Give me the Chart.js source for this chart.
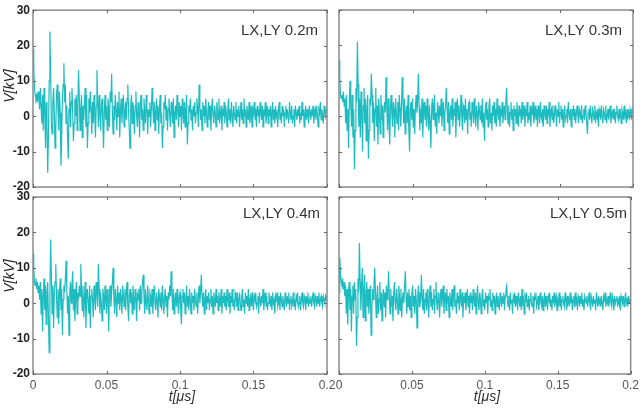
<!DOCTYPE html>
<html>
<head>
<meta charset="utf-8">
<script src="https://cdn.jsdelivr.net/npm/chart.js@4.4.1/dist/chart.umd.min.js"></script>
<style>
  html, body { margin: 0; padding: 0; background: #fff; }
  #wrap { position: relative; width: 643px; height: 408px; overflow: hidden; font-family: "Liberation Sans", Arial, sans-serif; }
  #wrap canvas { position: absolute; left: 0; top: 0; }
  .tag { position: absolute; font-size: 15px; color: #333; white-space: nowrap; line-height: 16px; }
  .ytitle { position: absolute; width: 44px; height: 16px; line-height: 16px; text-align: center;
            font-size: 14px; font-style: italic; color: #222; transform: rotate(-90deg); white-space: nowrap; }
  .xtitle { position: absolute; width: 60px; text-align: center; font-size: 14px; font-style: italic; color: #333; line-height: 16px; }
</style>
</head>
<body>
<div id="wrap">
  <canvas id="c1" width="643" height="408"></canvas>
  <canvas id="c2" width="643" height="408"></canvas>
  <canvas id="c3" width="643" height="408"></canvas>
  <canvas id="c4" width="643" height="408"></canvas>
  <div class="tag" style="right:325px; top:22px;">LX,LY 0.2m</div>
  <div class="tag" style="right:21px; top:22px;">LX,LY 0.3m</div>
  <div class="tag" style="right:323px; top:205px;">LX,LY 0.4m</div>
  <div class="tag" style="right:16px; top:205px;">LX,LY 0.5m</div>
  <div class="ytitle" style="left:-13px; top:78px;">V[kV]</div>
  <div class="ytitle" style="left:-13px; top:268px;">V[kV]</div>
  <div class="xtitle" style="left:152px; top:388px;">t[μs]</div>
  <div class="xtitle" style="left:457px; top:388px;">t[μs]</div>
</div>
<script>
// sampling step of the recorded voltage, in microseconds
const timeStep = 0.0005;

const xTicks = [0, 0.05, 0.1, 0.15, 0.2];
const yTicks = [-20, -10, 0, 10, 20, 30];

// voltage in kV, one value per sample
const lxly02 = [
  19, 14, 8, 6, 5, 6, 4, 7, 5, 2, 8, 3, -2, 6, -4, 8, 2, -9, 4, -3,
  -16, -6, 10, 24, 12, -2, -5, 4, 8, 1, -9, -3, 6, 9, 2, -4, 7, 1, -14, -6,
  5, 9, 15, 4, 9, -2, 3, -6, -12, 2, 7, -3, 4, 8, 1, -7, -2, 5, 0, 6,
  -4, 3, 13, 5, -4, 2, 6, -6, 3, -1, 4, 8, -3, 6, -9, -2, 5, 1, 7, 2,
  -5, 4, -2, 6, 0, -6, 3, 13, 4, -3, 6, 1, -4, 3, 5, -2, -9, 1, 6, -1,
  3, -4, 5, 2, -3, 7, 4, 12, 1, -5, 3, -1, 6, 2, -4, 4, 0, 7, -6, 2,
  5, -2, 3, 6, -3, 1, 4, -1, 5, 9, 2, -4, -9, 3, 6, -2, 4, 1, -5, 3,
  7, 0, -3, 4, 2, -6, 3, 6, -1, 2, -4, 5, 1, -2, 6, 3, -5, 2, 0, 4,
  -3, 2, 8, 3, -2, 4, -4, 1, 5, -1, 3, -5, 2, 6, -2, 1, -9, -3, 4, 2,
  6, -1, 3, -4, 2, 5, 0, -3, 4, 2, -2, 5, -6, 1, 3, -1, 6, 2, -3, 4,
  0, 3, -4, 5, 1, -2, 4, -3, 2, 6, -8, -2, 3, 1, 5, -1, 2, -4, 3, 0,
  4, -2, 1, 5, 2, -3, 9, 3, -1, 2, -4, 4, 0, 3, -2, 5, 1, -3, 2, 4,
  -1, 3, -4, 2, 5, 0, -2, 3, 1, -3, 4, 2, -1, 5, -2, 1, 3, -4, 2, 0,
  4, -2, 3, 1, -3, 2, 5, -1, 2, -2, 4, 0, -3, 3, 1, -1, 4, -2, 2, 0,
  3, -3, 1, 4, -1, 2, -2, 5, 0, 2, -3, 3, 1, -1, 4, -2, 0, 3, -3, 2,
  1, 4, -1, 2, -3, 3, 0, 2, -2, 4, 1, -1, 3, -3, 2, 0, 4, -2, 1, 3,
  -2, 2, 0, 3, -3, 1, 4, -1, 2, -2, 3, 0, 1, -3, 2, 4, -1, 1, -2, 3,
  0, 2, -3, 1, 3, -1, 2, 0, -2, 4, 1, -1, 3, -2, 0, 2, -3, 3, 1, -1,
  2, 0, 3, -2, 1, -1, 4, 0, 2, -3, 1, 3, -1, 2, 0, -2, 3, 1, -1, 2,
  0, 3, -2, 1, 2, -1, 3, 0, -3, 2, 1, 4, -1, 2, 0, -2, 3, 1, 0, 2,
  1
];

const lxly03 = [
  16, 11, 6, 5, 6, 4, 7, 3, 5, -2, 6, -4, 2, -9, 4, 10, 3, -3, 6, -6,
  2, -15, -4, 8, 4, 21, 9, -3, 5, -6, 7, 1, -10, 3, 8, -2, 5, -7, 2, 6,
  -12, -4, 5, 3, 12, 6, -2, 4, -7, 2, 8, -3, 3, -8, 5, 1, -5, 6, -1, 3,
  -6, 2, 4, 1, 11, 3, -4, 5, -2, -8, 3, 6, 0, -3, 4, 2, -6, 5, 1, -2,
  4, -4, 6, 2, -3, 3, 11, 4, -2, 5, -5, 1, 3, -2, 6, -4, -10, 2, 4, -1,
  5, -3, 2, -5, 3, 6, 1, 4, 12, 3, -4, 2, -2, 5, -6, 1, 4, -1, 3, -3,
  5, 0, -4, 3, -2, -9, 2, 5, -1, 3, 6, -3, 1, -5, 4, 2, -2, 3, 0, 5,
  -3, 2, 4, -4, 1, 3, 8, 2, -2, 4, -5, 1, 3, -1, 5, -3, 2, 0, 4, -6,
  2, 5, -1, 3, -3, 1, 6, 0, -4, 3, 2, -2, 5, -1, 2, -5, 3, 4, -1, 1,
  -3, 4, 2, -2, 5, 0, -3, 3, 1, -4, 4, 2, -1, 3, -2, 5, -3, 1, -7, 2,
  4, -1, 2, -3, 3, 5, -2, 1, -4, 3, 0, 4, -2, 2, -3, 5, 1, -1, 3, -3,
  2, 0, 4, -2, 1, 3, -1, 4, 8, 2, -2, 3, -3, 1, 4, -1, 2, -4, 3, 0,
  2, -2, 4, 1, -3, 3, 0, 2, -2, 4, -1, 1, 3, -3, 2, 0, 4, -2, 1, -1,
  3, -3, 2, 1, 4, -2, 0, 3, -1, 2, -3, 3, 1, -2, 4, 0, -1, 2, -3, 3,
  1, -1, 3, -2, 2, 0, 4, -3, 1, 2, -1, 3, -2, 0, 3, 1, -3, 2, 0, 4,
  -2, 1, 3, -1, 2, -3, 1, 3, -1, 0, 2, -2, 4, 1, -1, 2, -3, 2, 0, 3,
  -1, 2, -2, 1, 3, 0, -2, 2, 1, -1, 3, -2, 0, 2, -1, 3, 1, -2, -5, 1,
  2, -1, 3, 0, -2, 2, 1, -1, 3, -2, 1, 0, 2, -3, 2, 1, -1, 3, 0, -2,
  2, 1, -1, 3, -2, 0, 2, -1, 1, 3, -2, 1, 0, 2, -1, 2, -2, 1, 3, 0,
  -1, 2, 0, 1, -2, 2, 1, -1, 3, 0, 1, -2, 2, 0, 1, -1, 2, 1, -1, 2,
  1
];

const lxly04 = [
  14, 10, 6, 5, 7, 4, 6, 3, 5, 1, 6, -3, 4, -8, 2, 7, -2, 5, -6, 3,
  6, -4, -14, 2, 18, 8, -3, 5, -7, 3, 6, 11, 2, -4, 4, -6, 3, 7, -2, 4,
  -9, 1, 5, 3, 7, 12, 4, -3, 2, -9, 3, 6, 0, 5, 9, -2, 4, -5, 2, 6,
  -3, 3, 1, 5, 2, 11, 4, -2, 5, -4, 1, 6, -7, 2, 4, 0, -3, 5, -7, 2,
  4, 1, -4, 5, 2, -2, 6, 3, -1, 11, 4, -3, 3, 0, -5, 4, 2, -2, 5, 1,
  -3, 4, 2, -8, 3, 5, -1, 3, 6, 10, 2, -3, 4, 1, -4, 5, 0, 3, -2, 4,
  1, -3, 5, 2, -1, 4, -2, 3, 6, -1, -5, 2, 4, 0, 3, -3, 5, 1, -2, 4,
  2, -5, 3, 1, 4, -2, 5, 0, 3, 6, 8, 2, -3, 4, 0, -2, 5, 1, -3, 3,
  2, -1, 4, -3, 2, 5, 0, -2, 3, 1, -4, 4, 2, -1, 3, -2, 5, 1, -3, 2,
  4, -1, 2, -4, 3, 1, 5, 2, 9, 3, -2, 4, -3, 1, 3, -1, 4, 0, -3, 2,
  3, -2, -6, 2, 4, 0, 3, -3, 1, 5, -1, 2, -2, 4, 1, -3, 3, 0, 2, -2,
  4, 1, -1, 3, -3, 2, 5, 0, 3, 8, 2, -1, 3, -3, 1, 4, -2, 2, 0, 3,
  -2, 1, 4, -1, 2, -3, 3, 1, -1, 4, 0, 2, -2, 3, 1, -1, 4, -3, 2, 0,
  3, -1, 2, -2, 4, 1, -1, 3, -3, 2, 0, 4, -1, 1, -2, 3, 2, -1, 3, -2,
  1, 3, 0, -2, 2, 4, -1, 1, -3, 3, 0, 2, -1, 4, -2, 1, 2, -1, 3, 0,
  -2, 2, 1, 3, -1, 0, 2, -3, 3, 1, -1, 2, 0, 4, -2, 1, 3, -1, 2, -2,
  0, 3, 1, -1, 2, -2, 3, 0, 1, -3, 2, 1, 3, -1, 0, 2, -2, 3, 1, -1,
  2, 0, -2, 3, 1, -1, 2, 0, 3, -2, 1, 2, -1, 0, 3, -1, 1, -2, 2, 1,
  3, -1, 0, 2, -2, 1, 3, 0, -1, 2, 1, -2, 2, 0, 3, -1, 1, 0, 2, -1,
  1, 3, 0, -1, 2, 1, -1, 2, 0, 3, -1, 1, 2, 0, -1, 2, 1, 0, 2, 1,
  2
];

const lxly05 = [
  3, 13, 9, 6, 5, 7, 4, 6, 2, 5, -3, 4, -6, 3, 6, -2, 4, -8, 2, 5,
  -3, 6, 1, 4, -12, -4, 7, 3, 17, 6, -2, 5, 10, -4, 3, 8, -5, 2, 6, -1,
  4, -3, 2, 5, -9, -2, 4, 1, 6, 10, 3, -4, 2, 5, -3, 1, 6, -2, 3, -5,
  2, 4, -1, 3, -4, 5, 1, 3, 9, 2, -3, 4, -1, 2, -5, 3, 6, 0, -2, 4,
  1, -3, 5, 2, -2, 4, -4, 1, 3, 0, 5, 9, 2, -3, 3, -1, 4, -2, 2, -4,
  3, 5, -1, 2, -3, 4, 1, -7, 2, 5, -1, 3, 0, 8, 2, -2, 4, -3, 1, 3,
  -2, 4, 0, -4, 2, 5, -1, 3, -2, 1, 4, -3, 2, 6, 0, -2, 3, 1, -4, 2,
  4, -1, 2, 5, -3, 1, 3, -2, 4, 0, 2, -4, 3, 1, -1, 4, -2, 2, 5, -1,
  1, -3, 3, 0, 2, -2, 4, 1, -1, 3, -4, 2, 0, 3, -2, 1, 4, -1, 2, -3,
  3, 0, 2, -2, 4, 1, -1, 3, -3, 2, 5, 0, -2, 3, 1, -3, 2, 4, -1, 1,
  -2, 3, 0, 2, -3, 2, 1, 4, -1, 1, -2, 3, 0, 2, -3, 1, 3, -1, 2, 0,
  -2, 3, 1, -1, 2, 0, 3, -2, 2, 4, 5, 1, -1, 2, -2, 3, 0, 1, -3, 2,
  1, 3, -1, 2, 0, -2, 3, 1, -1, 2, -2, 4, 0, 1, -3, 2, 1, 3, -1, 0,
  2, -2, 1, 3, 0, -1, 2, -3, 2, 1, 3, -1, 0, 2, -2, 1, 3, 0, -1, 2,
  -2, 1, 3, -1, 2, 0, -2, 2, 1, 3, -1, 1, -2, 2, 0, 3, -1, 1, 2, -2,
  1, 0, 3, -1, 2, -2, 1, 2, 0, -1, 3, 1, -2, 2, 0, 1, -1, 3, 0, 2,
  -2, 1, 2, -1, 3, 0, 1, -2, 2, 1, -1, 2, 0, 3, -1, 1, -2, 2, 1, 0,
  2, -1, 1, 3, 0, -2, 2, 1, -1, 2, 0, 1, -2, 3, 1, -1, 2, 0, 1, -1,
  2, 0, -2, 2, 1, 3, -1, 1, 0, 2, -1, 1, 3, 0, -1, 2, 1, -2, 2, 0,
  1, 2, -1, 1, 0, 2, -2, 2, 1, 0, 2, -1, 1, 3, 0, 1, -1, 2, 0, 1,
  1
];

Chart.defaults.font.family = "'Liberation Sans', Arial, sans-serif";

// box with inward tick marks on all four sides, matlab style
const framePlugin = {
    id: 'frame',
    afterDatasetsDraw(chart) {
        const ctx = chart.ctx;
        const a = chart.chartArea;
        const x = chart.scales.x;
        const y = chart.scales.y;
        ctx.save();
        ctx.strokeStyle = '#8a8a8a';
        ctx.lineWidth = 1.5;
        ctx.strokeRect(a.left, a.top, a.right - a.left, a.bottom - a.top);
        ctx.strokeStyle = '#666';
        ctx.lineWidth = 1;
        ctx.beginPath();
        xTicks.forEach(v => {
            const px = Math.round(x.getPixelForValue(v)) + 0.5;
            ctx.moveTo(px, a.bottom); ctx.lineTo(px, a.bottom - 3);
            ctx.moveTo(px, a.top); ctx.lineTo(px, a.top + 3);
        });
        yTicks.forEach(v => {
            const py = Math.round(y.getPixelForValue(v)) + 0.5;
            ctx.moveTo(a.left, py); ctx.lineTo(a.left + 3, py);
            ctx.moveTo(a.right, py); ctx.lineTo(a.right - 3, py);
        });
        ctx.stroke();
        ctx.restore();
    }
};

function createPanel(id, values, box) {
    const yw = box.yLabels ? box.left : 0;
    const xh = box.xLabels ? 22 : 0;
    new Chart(document.getElementById(id), {
        type: 'line',
        data: {
            datasets: [{
                data: values.map((v, i) => ({ x: i * timeStep, y: v })),
                borderColor: 'rgb(28, 188, 192)',
                borderWidth: 1.2,
                pointRadius: 0,
                tension: 0,
                fill: false
            }]
        },
        options: {
            responsive: false,
            animation: false,
            layout: {
                autoPadding: false,
                padding: { left: box.left - yw, right: 643 - box.right, top: box.top, bottom: 408 - box.bottom - xh }
            },
            plugins: { legend: { display: false }, tooltip: { enabled: false } },
            scales: {
                x: {
                    type: 'linear', min: 0, max: 0.2,
                    grid: { display: false, drawTicks: false },
                    border: { display: false },
                    afterBuildTicks: s => { s.ticks = xTicks.map(v => ({ value: v })); },
                    ticks: {
                        display: box.xLabels, padding: 4, color: '#555', maxRotation: 0, autoSkip: false,
                        font: { size: 12 },
                        callback: v => String(+v.toFixed(2))
                    },
                    afterFit: s => { s.height = xh; }
                },
                y: {
                    min: -20, max: 30,
                    grid: { display: false, drawTicks: false },
                    border: { display: false },
                    afterBuildTicks: s => { s.ticks = yTicks.map(v => ({ value: v })); },
                    ticks: { display: box.yLabels, padding: 3, color: '#222', font: { size: 12, weight: 'bold' } },
                    afterFit: s => { s.width = yw; }
                }
            }
        },
        plugins: [framePlugin]
    });
}

createPanel('c1', lxly02, { left: 33, right: 327, top: 10, bottom: 187, yLabels: true, xLabels: false });
createPanel('c2', lxly03, { left: 339, right: 633, top: 10, bottom: 187, yLabels: false, xLabels: false });
createPanel('c3', lxly04, { left: 33, right: 327, top: 197, bottom: 374, yLabels: true, xLabels: true });
createPanel('c4', lxly05, { left: 339, right: 633, top: 197, bottom: 374, yLabels: false, xLabels: true });
</script>
</body>
</html>
